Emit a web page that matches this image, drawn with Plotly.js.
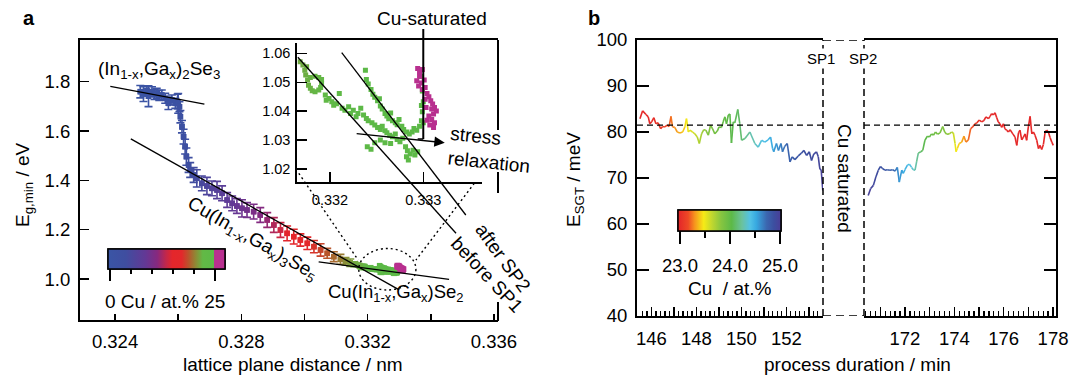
<!DOCTYPE html>
<html><head><meta charset="utf-8">
<script src="https://cdn.plot.ly/plotly-3.0.1.min.js"></script>
<style>body{margin:0;background:#fff}#chart{width:1084px;height:376px}</style>
</head><body><div id="chart"></div>
<script>
// ---------------- Panel a: main curve (lattice plane distance / nm, Eg,min / eV, Cu at.%) ----------------
const mainX = [0.32480,0.32490,0.32501,0.32506,0.32517,0.32525,0.32532,0.32540,0.32548,0.32559,0.32569,0.32580,0.32591,0.32598,0.32600,0.32604,0.32607,0.32612,0.32617,0.32622,0.32626,0.32633,0.32638,0.32649,0.32659,0.32675,0.32691,0.32707,0.32723,0.32739,0.32755,0.32771,0.32786,0.32802,0.32818,0.32839,0.32860,0.32882,0.32903,0.32924,0.32945,0.32966,0.32987,0.33009,0.33030,0.33051,0.33072,0.33093,0.33114,0.33130,0.33145,0.33158];
const mainY = [1.7596,1.7500,1.7636,1.7410,1.7596,1.7480,1.7528,1.7440,1.7461,1.7325,1.7123,1.7258,1.7123,1.7190,1.7120,1.6988,1.6582,1.6177,1.5772,1.5366,1.4961,1.4623,1.4420,1.4218,1.4083,1.3880,1.3772,1.3677,1.3610,1.3475,1.3204,1.3069,1.2961,1.2867,1.2799,1.2732,1.2596,1.2394,1.2191,1.1988,1.1853,1.1718,1.1583,1.1448,1.1313,1.1178,1.1043,1.0907,1.0799,1.0720,1.0660,1.0600];
const mainCu = [0.2,0.3,0.4,0.5,0.6,0.7,0.8,0.9,1.0,1.1,1.2,1.3,1.4,1.5,1.6,1.7,1.9,2.1,2.4,2.7,3.0,3.3,3.6,4.0,4.4,5.0,5.6,6.2,6.8,7.3,7.8,8.3,8.8,9.3,9.8,10.4,11.0,11.8,12.8,13.8,14.8,15.6,16.3,17.0,17.6,18.2,18.8,19.4,20.0,20.6,21.1,21.5];
const mainErr = [0.025,0.03,0.02,0.042,0.02,0.02,0.02,0.02,0.02,0.02,0.025,0.02,0.02,0.03,0.04,0.02,0.025,0.025,0.03,0.03,0.035,0.03,0.03,0.03,0.035,0.03,0.035,0.03,0.035,0.03,0.03,0.03,0.03,0.035,0.03,0.03,0.03,0.03,0.03,0.03,0.03,0.03,0.025,0.025,0.025,0.025,0.02,0.02,0.02,0.015,0.015,0.01];

// ---------------- Panel a: inset (near Cu-saturation) ----------------
const insetX = [0.33168,0.33171,0.33173,0.33174,0.33176,0.33177,0.33179,0.33181,0.33184,0.33188,0.33190,0.33191,0.33191,0.33188,0.33184,0.33179,0.33175,
 0.33195,0.33196,0.33199,0.33202,0.33204,0.33207,0.33210,0.33213,0.33216,0.33220,0.33222,0.33225,0.33228,0.33230,0.33233,0.33236,0.33239,0.33241,0.33245,0.33248,0.33251,0.33254,0.33256,0.33259,0.33261,0.33264,0.33267,0.33270,0.33272,0.33275,0.33278,0.33281,0.33283,0.33286,0.33289,0.33291,0.33294,0.33282,0.33284,
 0.33240,0.33244,0.33248,0.33254,0.33259,0.33265,
 0.33238,0.33239,0.33241,0.33244,0.33246,0.33248,0.33251,0.33253,0.33254,0.33256,0.33259,0.33261,0.33263,0.33265,0.33267,0.33270,0.33272,0.33274,0.33277,0.33279,0.33282,0.33285,0.33288,0.33290,0.33293,0.33296,0.33298,0.33299,0.33300,0.33297,0.33299,0.33298,0.33300,
 0.33294,0.33296,0.33299,0.33296,0.33293,0.33295,0.33298,0.33301,0.33299,0.33302,0.33304,0.33306,0.33302,0.33308,0.33310,0.33312,0.33314,0.33309,0.33311,0.33306,0.33309,0.33312,0.33307,0.33311,0.33304,0.33303];
const insetY = [1.0571,1.0560,1.0542,1.0525,1.0508,1.0490,1.0479,1.0471,1.0467,1.0473,1.0482,1.0496,1.0510,1.0517,1.0521,1.0517,1.0554,
 1.0456,1.0438,1.0444,1.0433,1.0421,1.0426,1.0461,1.0410,1.0403,1.0415,1.0392,1.0403,1.0381,1.0392,1.0410,1.0387,1.0375,1.0367,1.0360,1.0352,1.0344,1.0337,1.0348,1.0332,1.0325,1.0317,1.0312,1.0321,1.0302,1.0294,1.0306,1.0277,1.0263,1.0252,1.0265,1.0248,1.0260,1.0242,1.0231,
 1.0277,1.0268,1.0291,1.0300,1.0291,1.0288,
 1.0542,1.0510,1.0494,1.0475,1.0459,1.0448,1.0436,1.0443,1.0418,1.0408,1.0392,1.0383,1.0374,1.0394,1.0367,1.0360,1.0353,1.0371,1.0348,1.0337,1.0328,1.0321,1.0328,1.0340,1.0334,1.0348,1.0367,1.0398,1.0433,1.0520,1.0470,1.0420,1.0360,
 1.0548,1.0536,1.0544,1.0521,1.0505,1.0487,1.0498,1.0508,1.0475,1.0482,1.0461,1.0450,1.0441,1.0436,1.0425,1.0413,1.0401,1.0408,1.0390,1.0383,1.0371,1.0360,1.0352,1.0344,1.0369,1.0413];
const insetCu = [21.6,21.6,21.7,21.7,21.8,21.8,21.9,21.9,22.0,22.0,22.1,22.1,22.1,22.0,22.0,21.9,21.7,
 22.6,22.7,22.8,23.0,23.2,23.4,23.3,23.6,23.8,23.9,24.0,24.1,24.2,24.2,24.3,24.3,24.3,24.4,24.4,24.4,24.4,24.5,24.5,24.5,24.5,24.5,24.5,24.5,24.5,24.5,24.5,24.5,24.5,24.5,24.5,24.5,24.5,24.5,24.5,
 24.5,24.5,24.5,24.5,24.5,24.5,
 24.6,24.6,24.6,24.6,24.6,24.6,24.6,24.6,24.6,24.6,24.6,24.6,24.6,24.6,24.6,24.6,24.6,24.6,24.6,24.6,24.6,24.6,24.6,24.6,24.6,24.6,24.6,24.6,24.6,24.7,24.7,24.7,24.7,
 26.2,26.2,26.2,26.2,26.2,26.2,26.2,26.2,26.2,26.2,26.2,26.2,26.2,26.2,26.2,26.2,26.2,26.2,26.2,26.2,26.2,26.2,26.2,26.2,26.2,26.2];

// fit / guide lines of panel a (main-axis data coordinates)
const fitIGS   = {x:[0.32385,0.32683], y:[1.781,1.709]};   // (In,Ga)2Se3
const fitOVC   = {x:[0.32450,0.33300], y:[1.568,0.956]};   // Cu(In,Ga)3Se5
const fitCIGS  = {x:[0.33045,0.33458], y:[1.070,0.999]};   // Cu(In,Ga)Se2
const fitBefore= {x:[0.32979,0.33480], y:[1.899,1.1855]};  // before SP1
const fitAfter = {x:[0.33118,0.33511], y:[1.9175,1.2596]}; // after SP2
const cuSatX = 0.333;

// ---------------- Panel b: E_SGT vs process duration ----------------
const tBefore = [145.49,145.61,145.76,145.86,145.93,146.01,146.11,146.20,146.30,146.41,146.50,146.60,146.70,146.79,146.87,146.94,147.04,147.15,147.27,147.39,147.49,147.56,147.64,147.71,147.83,147.93,148.04,148.13,148.23,148.33,148.42,148.53,148.63,148.72,148.82,148.93,149.01,149.12,149.19,149.27,149.34,149.42,149.49,149.56,149.64,149.71,149.84,149.93,150.01,150.16,150.38,150.60,150.75,150.90,151.04,151.19,151.30,151.39,151.44,151.56,151.65,151.76,151.83,151.93,152.04,152.16,152.26,152.38,152.53,152.67,152.78,152.90,153.02,153.12,153.22,153.34,153.42,153.49,153.55,153.62];
const eBefore = [82.9,84.6,83.8,83.3,81.8,82.2,83.1,81.8,82.0,80.7,81.2,81.1,81.5,81.2,83.4,81.1,81.0,80.0,79.8,80.0,81.1,82.9,80.0,80.4,80.0,79.6,78.9,77.5,79.6,80.5,80.4,79.3,81.5,80.7,79.6,80.2,81.1,81.0,82.2,83.3,81.8,83.7,83.9,77.6,82.2,82.0,84.9,81.8,78.2,78.6,80.0,77.5,76.7,78.2,77.8,78.3,78.9,76.4,75.7,77.5,76.0,77.5,75.7,76.9,77.5,73.5,74.6,74.0,74.8,75.4,76.0,74.9,75.7,73.8,75.2,75.7,74.6,72.0,71.7,67.3];
const cuBefore = [23.0,23.0,23.0,23.0,23.0,23.02,23.03,23.04,23.06,23.08,23.1,23.12,23.15,
 23.18,23.24,23.27,23.3,23.33,23.36,23.4,23.44,
 23.48,23.52,23.55,23.58,23.62,
 23.66,23.7,23.74,23.78,23.82,23.85,23.88,23.9,23.92,23.94,
 23.96,23.98,24.0,24.0,24.02,24.03,24.04,24.05,24.06,24.08,24.1,24.12,
 24.15,24.2,24.26,24.32,24.36,24.4,24.43,24.46,24.5,
 24.53,24.56,24.6,24.63,24.66,24.69,24.72,24.75,
 24.78,24.8,24.82,24.84,24.86,24.88,24.89,24.9,24.91,24.92,24.94,24.95,24.97,24.98,25.0];
const tAfter = [170.51,170.61,170.72,170.82,170.92,171.01,171.10,171.19,171.28,171.39,171.50,171.60,171.69,171.77,171.87,171.93,172.00,172.10,172.18,172.27,172.34,172.41,172.47,172.54,172.64,172.72,172.81,172.91,172.99,173.08,173.15,173.24,173.32,173.42,173.53,173.61,173.69,173.80,173.89,173.96,174.03,174.07,174.12,174.20,174.30,174.39,174.47,174.57,174.66,174.74,174.84,174.91,175.01,175.11,175.20,175.28,175.38,175.45,175.51,175.58,175.65,175.72,175.78,175.85,175.92,175.99,176.05,176.12,176.19,176.26,176.37,176.46,176.53,176.60,176.66,176.73,176.80,176.87,176.93,177.00,177.07,177.14,177.20,177.27,177.34,177.41,177.47,177.54,177.61,177.68,177.74,177.81,177.88,177.95,178.01];
const eAfter = [66.2,67.7,68.4,70.2,71.7,72.5,72.0,71.7,71.8,71.7,71.8,71.5,72.3,69.1,71.7,71.0,71.8,72.8,73.0,72.3,71.8,71.7,73.5,75.4,75.7,76.0,78.2,79.1,78.9,79.6,79.3,80.0,79.5,79.8,81.2,80.0,79.5,79.6,80.0,79.8,77.5,75.7,76.4,77.5,77.8,79.1,77.8,78.3,80.7,81.1,81.8,81.95,82.6,82.2,82.5,83.3,82.9,83.4,84.0,83.7,84.2,83.1,82.2,81.8,81.0,81.8,80.7,80.4,80.0,80.5,79.6,78.9,77.1,79.8,80.4,78.3,78.9,79.6,78.2,81.1,83.4,79.6,80.0,79.3,78.2,76.4,77.1,76.2,77.3,80.0,80.4,80.0,78.8,77.8,77.1];
const cuAfter = [25.0,24.98,24.95,24.92,24.9,24.88,24.86,24.84,24.82,24.8,
 24.77,24.72,24.65,24.6,24.56,24.53,24.5,24.46,24.42,24.38,
 24.34,24.3,24.25,24.2,24.12,24.08,24.05,24.03,24.0,23.98,
 23.96,23.94,23.92,23.9,23.88,23.85,23.82,23.78,23.72,23.65,
 23.55,23.5,23.46,23.42,23.36,23.32,23.28,23.24,23.2,23.16,
 23.12,23.08,23.05,23.03,23.01,23.0,23.0,23.0,23.0,23.0,
 23,23,23,23,23,23,23,23,23,23,23,23,23,23,23,23,23,23,23,23,23,23,23,23,23,23,23,23,23,23,23,23,23,23,23];
const esgtRef = 81.5;
const cuTicksA = [0,5,10,15,20,25];
const cuTicksB = [23.0,23.5,24.0,24.5,25.0];

// ---------------- styling ----------------
const W = 1084, H = 376;
const FONT = 'Arial, "Liberation Sans", sans-serif';
const csA = [[0,'#3a55a5'],[0.15,'#3f4ea0'],[0.32,'#633895'],[0.42,'#86297f'],[0.5,'#c52748'],[0.55,'#e4262b'],[0.63,'#e3282b'],[0.69,'#b8552c'],[0.75,'#8e8a35'],[0.81,'#62b946'],[0.905,'#5cb947'],[0.91,'#b8308f'],[1,'#b8308f']];
const cA = [-0.4, 27.4];
const csB = [[0,'#e3232a'],[0.1,'#ee4a25'],[0.16,'#f6921e'],[0.25,'#f6eb16'],[0.33,'#c0d72f'],[0.42,'#86c540'],[0.52,'#5cb947'],[0.62,'#6bc29d'],[0.7,'#52c2e6'],[0.76,'#37a9e1'],[0.86,'#3b67b0'],[0.93,'#3c4fa0'],[1,'#4b3d97']];
const cB = [22.97, 25.03];

function hex2rgb(h){return [parseInt(h.slice(1,3),16),parseInt(h.slice(3,5),16),parseInt(h.slice(5,7),16)];}
function scaleColor(scale, c, v){
  let f=(v-c[0])/(c[1]-c[0]); f=Math.max(0,Math.min(1,f));
  for(let i=1;i<scale.length;i++){
    if(f<=scale[i][0]){
      const a=scale[i-1], b=scale[i];
      const t=(b[0]-a[0])>0?(f-a[0])/(b[0]-a[0]):0;
      const ca=hex2rgb(a[1]), cb=hex2rgb(b[1]);
      return 'rgb('+ca.map((q,k)=>Math.round(q+(cb[k]-q)*t)).join(',')+')';
    }
  }
  return scale[scale.length-1][1];
}
const dX = (a,b)=>[a/W, b/W];
const dY = (top,bot)=>[1-bot/H, 1-top/H];
const P = px=>px/W, Q = py=>1-py/H;

const traces = [];
// error bars (one trace per point so each bar takes the point colour)
mainX.forEach((x,i)=>{
  const c = scaleColor(csA, cA, mainCu[i]);
  traces.push({type:'scatter', x:[x], y:[mainY[i]], xaxis:'x', yaxis:'y', mode:'markers',
    marker:{symbol:'square', size:5.5, color:c}, hoverinfo:'skip',
    error_y:{type:'data', array:[mainErr[i]], color:c, thickness:1.6, width:4}});
});
const cbBaseA = {orientation:'h', x:P(108.3), xanchor:'left', y:Q(249), yanchor:'top', len:116.7, lenmode:'pixels',
  thickness:20, thicknessmode:'pixels', xpad:0, ypad:0, outlinewidth:1.5, outlinecolor:'black',
  tickmode:'array', ticks:'outside', tickwidth:1.5, tickcolor:'black', showticklabels:false};
traces.push({type:'scatter', x:mainX.concat(insetX), y:mainY.concat(insetY), xaxis:'x', yaxis:'y', mode:'markers',
  hoverinfo:'skip',
  marker:{symbol:'square', size:5.5, color:mainCu.concat(insetCu), colorscale:csA, cmin:cA[0], cmax:cA[1],
    showscale:true, colorbar:Object.assign({}, cbBaseA, {tickvals:[cuTicksA[0], cuTicksA[5]], ticklen:12})}});
traces.push({type:'scatter', x:insetX, y:insetY, xaxis:'x2', yaxis:'y2', mode:'markers', hoverinfo:'skip',
  marker:{symbol:'square', size:5, color:insetCu, colorscale:csA, cmin:cA[0], cmax:cA[1],
    showscale:true, colorbar:Object.assign({}, cbBaseA, {tickvals:cuTicksA.slice(1,5), ticklen:5})}});

// panel b coloured line segments
function addSegments(t, e, cu, xa, ya){
  for(let i=0;i<t.length-1;i++){
    traces.push({type:'scatter', x:[t[i],t[i+1]], y:[e[i],e[i+1]], xaxis:xa, yaxis:ya, mode:'lines',
      line:{color:scaleColor(csB, cB, (cu[i]+cu[i+1])/2), width:1.6}, hoverinfo:'skip'});
  }
}
addSegments(tBefore, eBefore, cuBefore, 'x3', 'y3');
addSegments(tAfter, eAfter, cuAfter, 'x4', 'y4');
const cbBaseB = {orientation:'h', x:P(678.3), xanchor:'left', y:Q(210), yanchor:'top', len:103.4, lenmode:'pixels',
  thickness:21, thicknessmode:'pixels', xpad:0, ypad:0, outlinewidth:1.5, outlinecolor:'black',
  tickmode:'array', ticks:'outside', tickwidth:1.5, tickcolor:'black', showticklabels:false};
traces.push({type:'scatter', x:tBefore, y:eBefore, xaxis:'x3', yaxis:'y3', mode:'markers', hoverinfo:'skip',
  marker:{size:1, opacity:0, color:cuBefore, colorscale:csB, cmin:cB[0], cmax:cB[1], showscale:true,
    colorbar:Object.assign({}, cbBaseB, {tickvals:[cuTicksB[0],cuTicksB[2],cuTicksB[4]], ticklen:13})}});
traces.push({type:'scatter', x:tAfter, y:eAfter, xaxis:'x4', yaxis:'y4', mode:'markers', hoverinfo:'skip',
  marker:{size:1, opacity:0, color:cuAfter, colorscale:csB, cmin:cB[0], cmax:cB[1], showscale:true,
    colorbar:Object.assign({}, cbBaseB, {tickvals:[cuTicksB[1],cuTicksB[3]], ticklen:7})}});

// ---------------- axes ----------------
const ax = {showgrid:false, zeroline:false, showline:true, linecolor:'black', linewidth:2,
  ticks:'inside', tickcolor:'black', tickwidth:1.5, tickfont:{size:18.5, color:'black'}};
const layout = {
  width:W, height:H, margin:{l:0,r:0,t:0,b:0}, paper_bgcolor:'white', plot_bgcolor:'rgba(0,0,0,0)',
  font:{family:FONT, color:'black', size:18}, showlegend:false,
  xaxis:Object.assign({}, ax, {domain:dX(80,498), range:[0.32289,0.33613], anchor:'y', mirror:true, ticklen:6,
    tickmode:'array', tickvals:[0.324,0.326,0.328,0.330,0.332,0.334,0.336], ticktext:['0.324','','0.328','','0.332','','0.336'], ticklabelstandoff:4}),
  yaxis:Object.assign({}, ax, {domain:dY(40,320), range:[0.834,1.969], anchor:'x', ticklen:9,
    tickmode:'array', tickvals:[1.0,1.2,1.4,1.6,1.8], ticktext:['1.0','1.2','1.4','1.6','1.8'], ticklabelstandoff:4}),
  xaxis2:Object.assign({}, ax, {domain:dX(297.3,481.7), range:[0.33165,0.333626], anchor:'y2', ticklen:10,
    tickmode:'array', tickvals:[0.332,0.333], ticktext:['0.332','0.333'], tickfont:{size:14.5,color:'black'}, ticklabelstandoff:4}),
  yaxis2:Object.assign({}, ax, {domain:dY(43.3,181.7), range:[1.0156,1.0635], anchor:'x2', ticklen:10,
    tickmode:'array', tickvals:[1.02,1.03,1.04,1.05,1.06], ticktext:['1.02','1.03','1.04','1.05','1.06'], tickfont:{size:14.5,color:'black'}, ticklabelstandoff:2}),
  xaxis3:Object.assign({}, ax, {domain:dX(637,823), range:[145.36,153.63], anchor:'y3', mirror:true, ticklen:9,
    tickmode:'array', tickvals:[146,147,148,149,150,151,152,153], ticktext:['146','','148','','150','','152',''], ticklabelstandoff:5,
    minor:{tickmode:'linear', tick0:146, dtick:0.2, ticks:'inside', ticklen:5, tickwidth:1.3, tickcolor:'black', showgrid:false}}),
  yaxis3:Object.assign({}, ax, {domain:dY(40,316), range:[40,100], anchor:'x3', ticklen:12,
    tickmode:'array', tickvals:[40,50,60,70,80,90,100], ticklabelstandoff:4}),
  xaxis4:Object.assign({}, ax, {domain:dX(864,1056), range:[170.34,178.12], anchor:'y4', mirror:true, ticklen:9,
    tickmode:'array', tickvals:[171,172,173,174,175,176,177,178], ticktext:['','172','','174','','176','','178'], ticklabelstandoff:5,
    minor:{tickmode:'linear', tick0:170, dtick:0.2, ticks:'inside', ticklen:5, tickwidth:1.3, tickcolor:'black', showgrid:false}}),
  yaxis4:Object.assign({}, ax, {domain:dY(40,316), range:[40,100], anchor:'x4', side:'right', ticklen:12,
    tickmode:'array', tickvals:[40,50,60,70,80,90,100], showticklabels:false}),
  shapes:[], annotations:[]
};

const lineShape = (f, w, dash)=>({type:'line', xref:'x', yref:'y', x0:f.x[0], x1:f.x[1], y0:f.y[0], y1:f.y[1], line:{color:'black', width:w, dash:dash||'solid'}});
[fitIGS, fitOVC, fitCIGS, fitBefore, fitAfter].forEach(f=>layout.shapes.push(lineShape(f,1.3)));
// right frame of panel a, broken where the labels cross it
[[40,130],[172,193],[302,321]].forEach(s=>layout.shapes.push({type:'line', xref:'x domain', yref:'paper', x0:1, x1:1, y0:Q(s[0]), y1:Q(s[1]), line:{color:'black', width:2}}));
// dotted zoom guides and ellipse
layout.shapes.push(lineShape({x:[0.32982,0.33170], y:[1.4287,1.0772]}, 1.4, '2px,3px'));
layout.shapes.push(lineShape({x:[0.33538,0.33353], y:[1.3881,1.0772]}, 1.4, '2px,3px'));
layout.shapes.push({type:'circle', xref:'x', yref:'y', x0:0.33172, x1:0.33353, y0:0.9556, y1:1.1238, line:{color:'black', width:1.4, dash:'2px,3px'}});
// Cu-saturated marker line
layout.shapes.push({type:'line', xref:'x2', yref:'paper', x0:cuSatX, x1:cuSatX, y0:Q(139), y1:Q(29), line:{color:'black', width:2}});
layout.shapes.push({type:'line', xref:'x2', yref:'paper', x0:0.33294, x1:cuSatX, y0:Q(139), y1:Q(139), line:{color:'black', width:1.5}});
// panel b dashed frame pieces
const dashV = '7px,4px', dashH = '8px,5px';
layout.shapes.push({type:'line', xref:'x3 domain', yref:'y3', x0:1, x1:1, y0:40, y1:100, line:{color:'black', width:1.5, dash:dashV}});
layout.shapes.push({type:'line', xref:'x4 domain', yref:'y4', x0:0, x1:0, y0:40, y1:100, line:{color:'black', width:1.5, dash:dashV}});
layout.shapes.push({type:'line', xref:'paper', yref:'y3', x0:P(823), x1:P(864), y0:100, y1:100, line:{color:'black', width:1.5, dash:dashH}});
layout.shapes.push({type:'line', xref:'paper', yref:'y3', x0:P(823), x1:P(864), y0:40, y1:40, line:{color:'black', width:1.5, dash:dashH}});
layout.shapes.push({type:'line', xref:'x3 domain', yref:'y3', x0:0, x1:1, y0:esgtRef, y1:esgtRef, line:{color:'black', width:1.3, dash:'6px,4px'}});
layout.shapes.push({type:'line', xref:'x4 domain', yref:'y4', x0:0, x1:1, y0:esgtRef, y1:esgtRef, line:{color:'black', width:1.3, dash:'6px,4px'}});

function txt(text, px, py, size, opts){
  return Object.assign({text:text, x:P(px), y:Q(py), xref:'paper', yref:'paper', showarrow:false,
    xanchor:'center', yanchor:'middle', font:{size:size, color:'black', family:FONT}}, opts||{});
}
const A = layout.annotations;
A.push(txt('<b>a</b>', 29, 18, 20));
A.push(txt('<b>b</b>', 594, 18, 20));
A.push(txt('(In<sub>1-x</sub>,Ga<sub>x</sub>)<sub>2</sub>Se<sub>3</sub>', 159, 70, 19));
A.push(txt('Cu(In<sub>1-x</sub>,Ga<sub>x</sub>)<sub>3</sub>Se<sub>5</sub>', 252, 239, 19, {textangle:30}));
A.push(txt('Cu(In<sub>1-x</sub>,Ga<sub>x</sub>)Se<sub>2</sub>', 396, 293, 18.5));
A.push(txt('Cu-saturated', 432, 19, 19));
A.push(txt('stress<br>relaxation', 490, 150, 19, {textangle:6, align:'left'}));
A.push(txt('after SP2', 503, 257, 19, {textangle:54}));
A.push(txt('before SP1', 487, 274, 19, {textangle:47}));
A.push(txt('E<sub>g,min</sub> / eV', 24, 185, 19, {textangle:-90}));
A.push(txt('lattice plane distance / nm', 292.5, 364, 19));
A.push(txt('0 Cu / at.% 25', 165, 301, 19));
A.push(txt('E<sub>SGT</sub> / meV', 575, 180, 19, {textangle:-90}));
A.push(txt('process duration / min', 857.5, 364, 19));
A.push(txt('SP1', 821, 58, 15, {bgcolor:'white'}));
A.push(txt('SP2', 863, 58, 15, {bgcolor:'white'}));
A.push(txt('Cu saturated', 844, 178, 19, {textangle:90}));
A.push(txt('Cu\u00a0 / at.%', 730, 288, 19));
A.push(txt('23.0', 680, 265, 18.5));
A.push(txt('24.0', 730, 265, 18.5));
A.push(txt('25.0', 780, 265, 18.5));
// stress relaxation arrow (inset coordinates)
A.push({xref:'x2', yref:'y2', axref:'x2', ayref:'y2', x:0.33323, y:1.02907, ax:0.33227, ay:1.03232,
  text:'', showarrow:true, arrowhead:2, arrowsize:1.6, arrowwidth:1.3, arrowcolor:'black'});

Plotly.newPlot('chart', traces, layout, {staticPlot:true, displayModeBar:false});
</script>
</body></html>
